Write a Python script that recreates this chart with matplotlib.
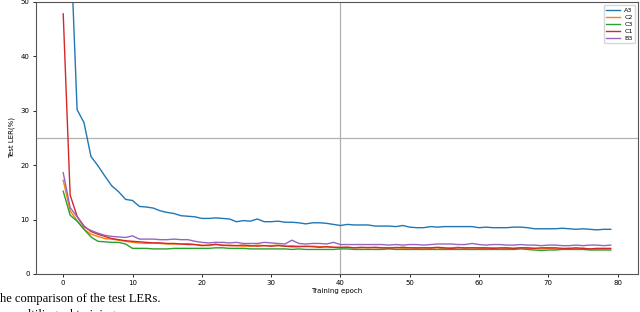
import numpy as np
import matplotlib.pyplot as plt

# test LER (%) per training epoch
epochs = np.arange(80)

a3 = [95, 63, 30.2, 27.8, 21.6, 19.9, 18.0, 16.2, 15.1, 13.7,
      13.5, 12.4, 12.3, 12.1, 11.6, 11.3, 11.1, 10.7, 10.6, 10.5,
      10.2, 10.2, 10.3, 10.2, 10.1, 9.6, 9.8, 9.7, 10.1, 9.6,
      9.6, 9.7, 9.5, 9.5, 9.4, 9.2, 9.4, 9.4, 9.3, 9.1,
      8.9, 9.1, 9.0, 9.0, 9.0, 8.8, 8.8, 8.8, 8.7, 8.9,
      8.6, 8.5, 8.5, 8.7, 8.6, 8.7, 8.7, 8.7, 8.7, 8.7,
      8.5, 8.6, 8.5, 8.5, 8.5, 8.6, 8.6, 8.5, 8.3, 8.3,
      8.3, 8.3, 8.4, 8.3, 8.2, 8.3, 8.2, 8.1, 8.2, 8.2]

c2 = [17.2, 11.6, 9.8, 8.2, 7.3, 6.9, 6.5, 6.4, 6.2, 6.0,
      5.8, 5.7, 5.6, 5.7, 5.6, 5.5, 5.5, 5.5, 5.6, 5.4,
      5.3, 5.2, 5.5, 5.2, 5.3, 5.2, 5.1, 5.1, 5.3, 5.2,
      5.2, 5.3, 5.1, 5.2, 5.1, 5.0, 5.1, 5.0, 5.0, 4.9,
      4.8, 4.9, 4.8, 4.8, 4.9, 4.8, 4.8, 4.7, 4.9, 4.7,
      4.8, 4.7, 4.8, 4.7, 4.8, 4.6, 4.8, 4.9, 4.7, 4.8,
      4.7, 4.7, 4.8, 4.6, 4.7, 4.7, 4.8, 4.7, 4.7, 4.6,
      4.7, 4.6, 4.6, 4.7, 4.6, 4.7, 4.6, 4.6, 4.6, 4.6]

c3 = [15.2, 10.8, 9.7, 8.2, 6.8, 6.0, 5.9, 5.8, 5.8, 5.5,
      4.7, 4.7, 4.7, 4.6, 4.6, 4.6, 4.7, 4.7, 4.7, 4.7,
      4.7, 4.7, 4.8, 4.8, 4.7, 4.7, 4.7, 4.6, 4.6, 4.6,
      4.6, 4.6, 4.6, 4.5, 4.6, 4.5, 4.5, 4.5, 4.5, 4.5,
      4.6, 4.6, 4.5, 4.5, 4.5, 4.5, 4.5, 4.6, 4.5, 4.5,
      4.5, 4.5, 4.5, 4.5, 4.5, 4.5, 4.5, 4.5, 4.5, 4.5,
      4.5, 4.5, 4.5, 4.5, 4.5, 4.5, 4.6, 4.5, 4.4, 4.3,
      4.4, 4.4, 4.5, 4.5, 4.5, 4.5, 4.4, 4.4, 4.4, 4.4]

c1 = [47.8, 14.5, 10.6, 8.8, 7.8, 7.3, 6.9, 6.5, 6.3, 6.1,
      6.0, 5.9, 5.8, 5.7, 5.7, 5.6, 5.6, 5.5, 5.4, 5.4,
      5.2, 5.3, 5.4, 5.3, 5.2, 5.2, 5.3, 5.2, 5.1, 5.2,
      5.1, 5.2, 5.1, 5.0, 5.0, 5.1, 5.0, 4.9, 5.0, 4.9,
      4.9, 4.9, 4.8, 4.9, 4.8, 4.9, 4.8, 4.8, 4.8, 4.9,
      4.8, 4.8, 4.8, 4.8, 4.9, 4.8, 4.7, 4.8, 4.8, 4.8,
      4.8, 4.8, 4.7, 4.8, 4.8, 4.7, 4.8, 4.8, 4.7, 4.8,
      4.8, 4.8, 4.7, 4.7, 4.8, 4.7, 4.6, 4.7, 4.7, 4.7]

b3 = [18.6, 12.2, 10.5, 8.6, 8.0, 7.5, 7.1, 6.9, 6.8, 6.7,
      7.0, 6.4, 6.4, 6.4, 6.3, 6.3, 6.4, 6.3, 6.3, 6.0,
      5.8, 5.7, 5.8, 5.8, 5.7, 5.8, 5.6, 5.6, 5.6, 5.8,
      5.7, 5.6, 5.5, 6.2, 5.6, 5.5, 5.6, 5.6, 5.5, 5.8,
      5.4, 5.4, 5.4, 5.4, 5.4, 5.4, 5.4, 5.3, 5.4, 5.3,
      5.4, 5.4, 5.3, 5.4, 5.5, 5.5, 5.5, 5.4, 5.4, 5.6,
      5.4, 5.3, 5.4, 5.4, 5.3, 5.3, 5.4, 5.3, 5.3, 5.2,
      5.3, 5.3, 5.2, 5.2, 5.3, 5.2, 5.3, 5.3, 5.2, 5.3]

names = ['A3', 'C2', 'C3', 'C1', 'B3']
series = [a3, c2, c3, c1, b3]
colors = ['tab:blue', 'tab:orange', 'tab:green', 'tab:red', 'tab:purple']

fig = plt.figure(figsize=(6.4, 3.12), dpi=100)
ax = fig.add_axes([0.056, 0.122, 0.941, 0.872])

for name, ys, c in zip(names, series, colors):
    ax.plot(epochs, ys, color=c, lw=1.0, label=name)

# the odd single grid lines in the middle
ax.axvline(40, color='#b0b0b0', lw=0.9, zorder=0)
ax.axhline(25, color='#b0b0b0', lw=0.9, zorder=0)

ax.set_ylim(0, 50)
ax.set_xlim(-3.95, 82.95)
ax.set_xticks([0, 10, 20, 30, 40, 50, 60, 70, 80])
ax.set_yticks([0, 10, 20, 30, 40, 50])
ax.tick_params(labelsize=5, length=2.5, width=0.6, pad=2)
for s in ax.spines.values():
    s.set_linewidth(0.8)
    s.set_color('#555555')
ax.set_xlabel('Training epoch', fontsize=5, labelpad=1)
ax.set_ylabel('Test LER(%)', fontsize=5, labelpad=4)

ax.legend(loc='upper right', fontsize=4.6, handlelength=2.2, labelspacing=0.25,
          borderpad=0.35, handletextpad=0.6, framealpha=0.8)

# caption fragment from the paper page, clipped by the page crop
fig.text(0.0, 0.033, 'he comparison of the test LERs.',
         family='Liberation Serif', fontsize=9, va='baseline')
fig.text(0.019, -0.019, 'multilingual training',
         family='Liberation Serif', fontsize=9, va='baseline')

fig.savefig('out.png', dpi=100)
